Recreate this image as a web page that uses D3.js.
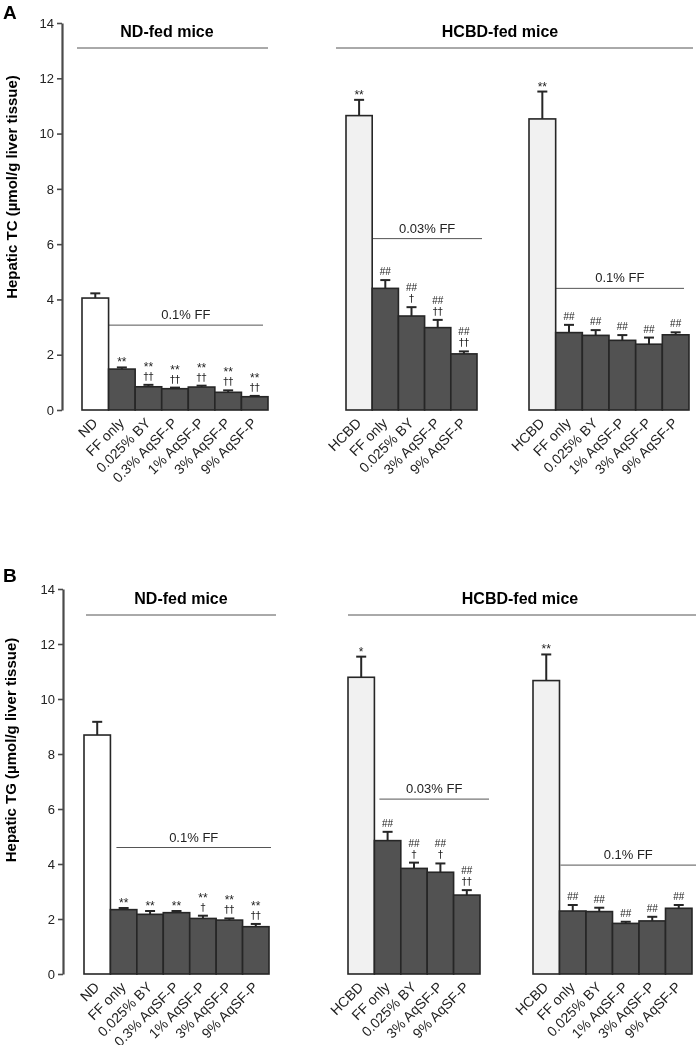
<!DOCTYPE html>
<html><head><meta charset="utf-8">
<script src="https://cdn.jsdelivr.net/npm/d3@7"></script>
<style>body{margin:0;background:#fff}svg{display:block;font-family:"Liberation Sans",Arial,sans-serif;filter:grayscale(1)}</style>
</head><body><svg id="c" width="696" height="1045"></svg>
<script>
// ---------- DATA ----------
const yTicks = [0,2,4,6,8,10,12,14];

const ndLabels   = ["ND","FF only","0.025% BY","0.3% AqSF-P","1% AqSF-P","3% AqSF-P","9% AqSF-P"];
const hcbd1Labels = ["HCBD","FF only","0.025% BY","3% AqSF-P","9% AqSF-P"];
const hcbd2Labels = ["HCBD","FF only","0.025% BY","1% AqSF-P","3% AqSF-P","9% AqSF-P"];

// Panel A: Hepatic TC
const tcNDMean    = [4.05,1.48,0.84,0.77,0.83,0.64,0.48];
const tcNDSem     = [0.17,0.06,0.07,0.04,0.05,0.07,0.03];
const tcNDSig     = [[],["**"],["**","††"],["**","††"],["**","††"],["**","††"],["**","††"]];
const tcH1Mean    = [10.65,4.40,3.40,2.98,2.03];
const tcH1Sem     = [0.57,0.30,0.32,0.28,0.09];
const tcH1Sig     = [["**"],["##"],["##","†"],["##","††"],["##","††"]];
const tcH2Mean    = [10.53,2.80,2.70,2.52,2.38,2.72];
const tcH2Sem     = [0.99,0.28,0.19,0.19,0.24,0.09];
const tcH2Sig     = [["**"],["##"],["##"],["##"],["##"],["##"]];

// Panel B: Hepatic TG
const tgNDMean    = [8.69,2.34,2.17,2.23,2.02,1.96,1.72];
const tgNDSem     = [0.48,0.06,0.12,0.06,0.10,0.06,0.10];
const tgNDSig     = [[],["**"],["**"],["**"],["**","†"],["**","††"],["**","††"]];
const tgH1Mean    = [10.79,4.85,3.84,3.70,2.87];
const tgH1Sem     = [0.75,0.32,0.21,0.32,0.18];
const tgH1Sig     = [["*"],["##"],["##","†"],["##","†"],["##","††"]];
const tgH2Mean    = [10.67,2.29,2.27,1.84,1.93,2.39];
const tgH2Sem     = [0.95,0.22,0.14,0.06,0.15,0.12];
const tgH2Sig     = [["**"],["##"],["##"],["##"],["##"],["##"]];

const ffLabelsA = ["0.1% FF","0.03% FF","0.1% FF"];
const ffLevelsA = [3.07,6.2,4.4];
const ffLabelsB = ["0.1% FF","0.03% FF","0.1% FF"];
const ffLevelsB = [4.6,6.36,3.96];

// ---------- DRAW ----------
const svg = d3.select("#c");
const DARK = "#525252", STROKE = "#262626";

function drawPanel(p){
  const g = svg.append("g");
  const y = d3.scaleLinear().domain([0,14]).range([p.y0, p.y14]);
  g.append("text").attr("x",3).attr("y",p.letterY).attr("font-size",19).attr("font-weight","bold").text(p.letter);
  const ax = g.append("g").attr("transform",`translate(${p.axisX},0)`)
    .call(d3.axisLeft(y).tickValues(yTicks).tickSize(5).tickSizeOuter(0).tickPadding(3));
  ax.select(".domain").attr("stroke","#4a4a4a").attr("stroke-width",2.2);
  ax.selectAll(".tick line").attr("stroke","#4a4a4a").attr("stroke-width",1.6);
  ax.selectAll(".tick text").attr("font-size",13).attr("fill","#222").attr("font-family","Liberation Sans, Arial");
  g.append("text").attr("transform",`translate(${p.ylabX},${p.ylabY}) rotate(-90)`)
    .attr("text-anchor","middle").attr("font-size",15).attr("font-weight","bold").text(p.ylab);

  p.headers.forEach(h=>{
    g.append("line").attr("x1",h.x1).attr("x2",h.x2).attr("y1",h.ly).attr("y2",h.ly).attr("stroke","#555").attr("stroke-width",1);
    g.append("text").attr("x",h.tx).attr("y",h.ly-11).attr("text-anchor","middle").attr("font-size",16).attr("font-weight","bold").text(h.text);
  });

  p.groups.forEach(gr=>{
    const x = d3.scaleBand().domain(gr.labels).range([gr.x0,gr.x1]).padding(0);
    const gg = g.append("g");
    const ffy = y(gr.ff);
    const ffx2 = gr.ffEnd;
    const ffx1 = x(gr.labels[1]) + (gr.ffOff||0);
    gg.append("line").attr("x1",ffx1).attr("x2",ffx2).attr("y1",ffy).attr("y2",ffy).attr("stroke","#555").attr("stroke-width",1);
    gg.append("text").attr("x",(ffx1+ffx2)/2).attr("y",ffy-6).attr("text-anchor","middle").attr("font-size",13).attr("fill","#222").text(gr.ffLabel);
    gg.selectAll("rect").data(gr.labels).join("rect")
      .attr("x",d=>x(d)).attr("width",x.bandwidth())
      .attr("y",(d,i)=>y(gr.mean[i])).attr("height",(d,i)=>y(0)-y(gr.mean[i]))
      .attr("fill",(d,i)=>i===0?gr.firstFill:DARK).attr("stroke",STROKE).attr("stroke-width",1.6);
    gr.labels.forEach((d,i)=>{
      const cx = x(d)+x.bandwidth()/2;
      const t = y(gr.mean[i]+gr.sem[i]);
      gg.append("line").attr("x1",cx).attr("x2",cx).attr("y1",y(gr.mean[i])).attr("y2",t).attr("stroke",STROKE).attr("stroke-width",2);
      gg.append("line").attr("x1",cx-5).attr("x2",cx+5).attr("y1",t).attr("y2",t).attr("stroke",STROKE).attr("stroke-width",2);
      const sig = gr.sig[i];
      // lowest line first
      let base = t - 4;
      sig.slice().reverse().forEach((s,k)=>{
        const isStar = s.indexOf("*")>=0;
        const isHash = s.indexOf("#")>=0;
        let b;
        if (k===0) b = isStar ? t - 1 : t - 5;
        else b = base - (isStar ? 9 : 11);
        base = b;
        gg.append("text").attr("x",cx).attr("y",b).attr("text-anchor","middle")
          .attr("font-family", (isStar||isHash)?"Liberation Sans, Arial":"DejaVu Sans")
          .attr("font-size", isHash?10:(isStar?12:10)).attr("fill","#222").text(s);
      });
      gg.append("text").attr("transform",`translate(${cx+3},${y(0)+14}) rotate(-45)`)
        .attr("text-anchor","end").attr("font-size",14).attr("fill","#222").text(d);
    });
  });
}

drawPanel({
  letter:"A", letterY:19, y0:410, y14:23, axisX:62, ylabX:17, ylabY:187,
  ylab:"Hepatic TC (µmol/g liver tissue)",
  headers:[{text:"ND-fed mice",x1:77,x2:268,ly:48,tx:167},{text:"HCBD-fed mice",x1:336,x2:693,ly:48,tx:500}],
  groups:[
    {labels:ndLabels,mean:tcNDMean,sem:tcNDSem,sig:tcNDSig,x0:82,x1:268,firstFill:"#ffffff",ff:ffLevelsA[0],ffLabel:ffLabelsA[0],ffEnd:263},
    {labels:hcbd1Labels,mean:tcH1Mean,sem:tcH1Sem,sig:tcH1Sig,x0:346,x1:477,firstFill:"#f1f1f1",ff:ffLevelsA[1],ffLabel:ffLabelsA[1],ffEnd:482},
    {labels:hcbd2Labels,mean:tcH2Mean,sem:tcH2Sem,sig:tcH2Sig,x0:529,x1:689,firstFill:"#f1f1f1",ff:ffLevelsA[2],ffLabel:ffLabelsA[2],ffEnd:684}
  ]
});
drawPanel({
  letter:"B", letterY:582, y0:974, y14:589, axisX:63, ylabX:16, ylabY:750,
  ylab:"Hepatic TG (µmol/g liver tissue)",
  headers:[{text:"ND-fed mice",x1:86,x2:276,ly:615,tx:181},{text:"HCBD-fed mice",x1:348,x2:696,ly:615,tx:520}],
  groups:[
    {labels:ndLabels,mean:tgNDMean,sem:tgNDSem,sig:tgNDSig,x0:84,x1:269,firstFill:"#ffffff",ff:ffLevelsB[0],ffLabel:ffLabelsB[0],ffEnd:271,ffOff:6},
    {labels:hcbd1Labels,mean:tgH1Mean,sem:tgH1Sem,sig:tgH1Sig,x0:348,x1:480,firstFill:"#f1f1f1",ff:ffLevelsB[1],ffLabel:ffLabelsB[1],ffEnd:489,ffOff:5},
    {labels:hcbd2Labels,mean:tgH2Mean,sem:tgH2Sem,sig:tgH2Sig,x0:533,x1:692,firstFill:"#f1f1f1",ff:ffLevelsB[2],ffLabel:ffLabelsB[2],ffEnd:696,ffOff:1}
  ]
});
</script></body></html>
